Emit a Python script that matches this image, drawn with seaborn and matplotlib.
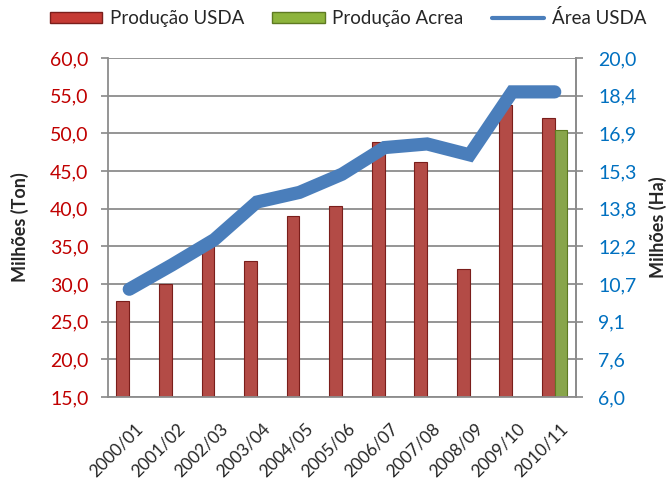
import numpy as np
import pandas as pd
import seaborn as sns
import matplotlib.pyplot as plt
import matplotlib.transforms as mtransforms
from matplotlib.patches import Patch
from matplotlib.lines import Line2D

# data
safras = ["2000/01", "2001/02", "2002/03", "2003/04", "2004/05", "2005/06",
          "2006/07", "2007/08", "2008/09", "2009/10", "2010/11"]
producao_usda = [27.7, 30.0, 35.1, 33.0, 39.0, 40.4, 48.9, 46.2, 32.0, 53.8, 52.0]
producao_acrea = [np.nan] * 10 + [50.5]
area_usda = [10.45, 11.45, 12.5, 14.05, 14.45, 15.2, 16.3, 16.45, 16.0, 18.6, 18.6]

left_ticks = np.arange(15, 60.1, 5)
right_ticks = np.linspace(6, 20, 10)

red, green, blue = "#C53A34", "#8DB43C", "#4A7EBB"

sns.set_theme(style="white")
plt.rcParams["font.family"] = ["Lato", "DejaVu Sans"]

df = pd.DataFrame({
    "safra": safras * 2,
    "valor": producao_usda + producao_acrea,
    "serie": ["Produção USDA"] * 11 + ["Produção Acrea"] * 11,
})

fig = plt.figure(figsize=(6.69, 4.86), dpi=100)
ax = fig.add_axes([0.1614, 0.1831, 0.6996, 0.6976])

sns.barplot(data=df, x="safra", y="valor", hue="serie", ax=ax,
            palette=[red, green], width=0.6, legend=False,
            edgecolor=None, linewidth=0)
for bar, fc in zip(ax.patches, [red] * 11 + [green] * 11):
    bar.set_edgecolor("#7A1E1B" if fc == red else "#5E7A22")
    bar.set_linewidth(0.8)

ax.set_ylim(15, 60)
ax.set_yticks(left_ticks)
ax.set_yticklabels([f"{v:.1f}".replace(".", ",") for v in left_ticks],
                   color="#C00000", fontsize=14)
ax.set_xlim(-0.5, 10.5)
ax.set_xticks(range(11))
ax.set_xticklabels(safras, rotation=45, ha="right", rotation_mode="anchor",
                   fontsize=12.5)
ax.tick_params(axis="x", length=0, pad=17)
shift = mtransforms.ScaledTranslation(5 / 100, 0, fig.dpi_scale_trans)
for lab in ax.get_xticklabels():
    lab.set_transform(lab.get_transform() + shift)
ax.set_xticks(np.arange(-0.5, 11, 1), minor=True)
ax.tick_params(axis="x", which="minor", length=5, color="#888888", width=1.2)
ax.tick_params(axis="y", length=5, color="#888888", width=1.2, left=True, pad=9)
ax.grid(axis="y", color="#8C8C8C", linewidth=1.3)
ax.set_axisbelow(True)
for s in ax.spines.values():
    s.set_color("#8C8C8C")
    s.set_linewidth(1.3)
ax.spines["top"].set_visible(False)
ax.set_xlabel("")
ax.set_ylabel("Milhões (Ton)", fontsize=13, fontweight="bold", labelpad=15)

ax2 = ax.twinx()
sns.lineplot(x=np.arange(11), y=area_usda, ax=ax2, color=blue, linewidth=9.5,
             solid_capstyle="round", solid_joinstyle="miter")
ax2.set_ylim(6, 20)
ax2.set_yticks(right_ticks)
ax2.set_yticklabels([f"{v:.1f}".replace(".", ",") for v in right_ticks],
                    color="#0070C0", fontsize=14)
ax2.tick_params(axis="y", length=5, color="#888888", width=1.2, right=True, pad=11)
for s in ax2.spines.values():
    s.set_visible(False)
ax2.spines["right"].set_visible(True)
ax2.spines["right"].set_color("#8C8C8C")
ax2.spines["right"].set_linewidth(1.3)
ax2.set_ylabel("Milhões (Ha)", fontsize=13, fontweight="bold", labelpad=9)
ax2.set_xlim(-0.5, 10.5)

handles = [
    Patch(facecolor=red, edgecolor="#7A1E1B"),
    Patch(facecolor=green, edgecolor="#5E7A22"),
    Line2D([0], [0], color=blue, linewidth=3),
]
fig.legend(handles, ["Produção USDA", "Produção Acrea", "Área USDA"],
           loc="center", bbox_to_anchor=(0.52, 0.963), ncol=3, frameon=False,
           fontsize=13.5, handlelength=2.8, handleheight=0.5, columnspacing=1.5,
           handletextpad=0.4)

fig.savefig("out.png", dpi=100)
